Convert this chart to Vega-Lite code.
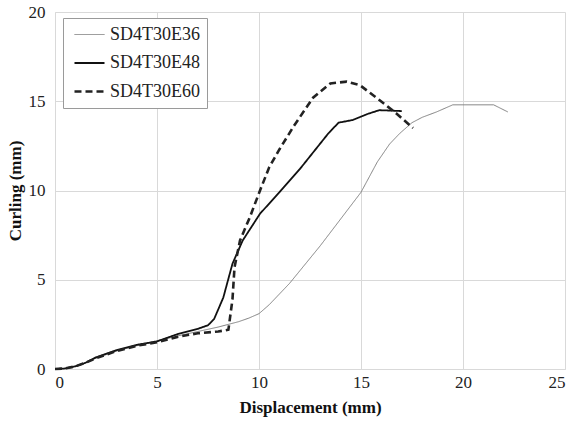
{
  "$schema": "https://vega.github.io/schema/vega-lite/v6.json",
  "width": 510,
  "height": 357,
  "autosize": {"type": "none"},
  "padding": {"left": 55, "top": 12, "right": 10, "bottom": 58},
  "background": "white",
  "config": {
    "font": "Liberation Serif",
    "view": {"stroke": null},
    "axis": {
      "labelFont": "Liberation Serif",
      "titleFont": "Liberation Serif",
      "labelFontSize": 17,
      "titleFontSize": 17,
      "labelColor": "#222",
      "titleColor": "#111",
      "gridColor": "#d9d9d9",
      "domainColor": "#d9d9d9",
      "ticks": false
    },
    "legend": {
      "orient": "none",
      "legendX": 8,
      "legendY": 6,
      "direction": "vertical",
      "strokeColor": "#9a9a9a",
      "fillColor": "white",
      "padding": 7,
      "labelFont": "Liberation Serif",
      "labelFontSize": 18,
      "labelColor": "#222",
      "symbolType": "M-1.667,0L1.667,0",
      "symbolSize": 324,
      "symbolOffset": 9,
      "rowPadding": 9,
      "labelOffset": 10
    }
  },
  "datasets": {
    "curves": [
      {"series": "SD4T30E36", "x": 0, "y": 0},
      {"series": "SD4T30E36", "x": 0.5, "y": 0.03},
      {"series": "SD4T30E36", "x": 1, "y": 0.15},
      {"series": "SD4T30E36", "x": 1.5, "y": 0.35},
      {"series": "SD4T30E36", "x": 2, "y": 0.6},
      {"series": "SD4T30E36", "x": 2.5, "y": 0.8},
      {"series": "SD4T30E36", "x": 3, "y": 1.0},
      {"series": "SD4T30E36", "x": 4, "y": 1.3},
      {"series": "SD4T30E36", "x": 5, "y": 1.55},
      {"series": "SD4T30E36", "x": 6, "y": 1.85},
      {"series": "SD4T30E36", "x": 7, "y": 2.1},
      {"series": "SD4T30E36", "x": 8, "y": 2.35},
      {"series": "SD4T30E36", "x": 9, "y": 2.65},
      {"series": "SD4T30E36", "x": 9.5, "y": 2.85},
      {"series": "SD4T30E36", "x": 10, "y": 3.1},
      {"series": "SD4T30E36", "x": 10.5, "y": 3.6},
      {"series": "SD4T30E36", "x": 11, "y": 4.2},
      {"series": "SD4T30E36", "x": 11.5, "y": 4.8},
      {"series": "SD4T30E36", "x": 12, "y": 5.5},
      {"series": "SD4T30E36", "x": 13, "y": 6.9},
      {"series": "SD4T30E36", "x": 14, "y": 8.4},
      {"series": "SD4T30E36", "x": 15, "y": 9.9},
      {"series": "SD4T30E36", "x": 15.8, "y": 11.6},
      {"series": "SD4T30E36", "x": 16.4, "y": 12.6},
      {"series": "SD4T30E36", "x": 16.9, "y": 13.2},
      {"series": "SD4T30E36", "x": 17.5, "y": 13.8},
      {"series": "SD4T30E36", "x": 18, "y": 14.1},
      {"series": "SD4T30E36", "x": 18.7, "y": 14.4},
      {"series": "SD4T30E36", "x": 19.5, "y": 14.8},
      {"series": "SD4T30E36", "x": 21.5, "y": 14.8},
      {"series": "SD4T30E36", "x": 22.2, "y": 14.4},
      {"series": "SD4T30E48", "x": 0, "y": 0},
      {"series": "SD4T30E48", "x": 0.5, "y": 0.03},
      {"series": "SD4T30E48", "x": 1, "y": 0.15},
      {"series": "SD4T30E48", "x": 1.5, "y": 0.35},
      {"series": "SD4T30E48", "x": 2, "y": 0.65},
      {"series": "SD4T30E48", "x": 2.5, "y": 0.85},
      {"series": "SD4T30E48", "x": 3, "y": 1.05},
      {"series": "SD4T30E48", "x": 4, "y": 1.35},
      {"series": "SD4T30E48", "x": 5, "y": 1.55},
      {"series": "SD4T30E48", "x": 6, "y": 1.95},
      {"series": "SD4T30E48", "x": 7, "y": 2.25},
      {"series": "SD4T30E48", "x": 7.5, "y": 2.45},
      {"series": "SD4T30E48", "x": 7.8, "y": 2.8},
      {"series": "SD4T30E48", "x": 8.25, "y": 4.0},
      {"series": "SD4T30E48", "x": 8.7, "y": 5.9},
      {"series": "SD4T30E48", "x": 9.2, "y": 7.2},
      {"series": "SD4T30E48", "x": 10.05, "y": 8.7},
      {"series": "SD4T30E48", "x": 11, "y": 9.9},
      {"series": "SD4T30E48", "x": 12, "y": 11.2},
      {"series": "SD4T30E48", "x": 12.7, "y": 12.2},
      {"series": "SD4T30E48", "x": 13.4, "y": 13.2},
      {"series": "SD4T30E48", "x": 13.9, "y": 13.8},
      {"series": "SD4T30E48", "x": 14.6, "y": 13.95},
      {"series": "SD4T30E48", "x": 15.35, "y": 14.3},
      {"series": "SD4T30E48", "x": 15.9, "y": 14.5},
      {"series": "SD4T30E48", "x": 17, "y": 14.45},
      {"series": "SD4T30E60", "x": 0, "y": 0},
      {"series": "SD4T30E60", "x": 0.5, "y": 0.03},
      {"series": "SD4T30E60", "x": 1, "y": 0.15},
      {"series": "SD4T30E60", "x": 1.5, "y": 0.35},
      {"series": "SD4T30E60", "x": 2, "y": 0.6},
      {"series": "SD4T30E60", "x": 2.5, "y": 0.8},
      {"series": "SD4T30E60", "x": 3, "y": 1.0},
      {"series": "SD4T30E60", "x": 4, "y": 1.3},
      {"series": "SD4T30E60", "x": 5, "y": 1.5},
      {"series": "SD4T30E60", "x": 6, "y": 1.8},
      {"series": "SD4T30E60", "x": 7, "y": 2.0},
      {"series": "SD4T30E60", "x": 8, "y": 2.1},
      {"series": "SD4T30E60", "x": 8.5, "y": 2.2},
      {"series": "SD4T30E60", "x": 8.7, "y": 3.9},
      {"series": "SD4T30E60", "x": 8.8, "y": 5.7},
      {"series": "SD4T30E60", "x": 9.07, "y": 7.2},
      {"series": "SD4T30E60", "x": 9.55, "y": 8.5},
      {"series": "SD4T30E60", "x": 10.05, "y": 10.0},
      {"series": "SD4T30E60", "x": 10.5, "y": 11.3},
      {"series": "SD4T30E60", "x": 11, "y": 12.3},
      {"series": "SD4T30E60", "x": 11.7, "y": 13.6},
      {"series": "SD4T30E60", "x": 12.65, "y": 15.2},
      {"series": "SD4T30E60", "x": 13.5, "y": 16.0},
      {"series": "SD4T30E60", "x": 14.3, "y": 16.1},
      {"series": "SD4T30E60", "x": 14.95, "y": 15.9},
      {"series": "SD4T30E60", "x": 15.9, "y": 15.07},
      {"series": "SD4T30E60", "x": 16.75, "y": 14.3},
      {"series": "SD4T30E60", "x": 17.55, "y": 13.5}
    ]
  },
  "data": {"name": "curves"},
  "mark": {"type": "line", "interpolate": "linear"},
  "encoding": {
    "x": {
      "field": "x",
      "type": "quantitative",
      "title": "Displacement (mm)",
      "scale": {"domain": [0, 25], "nice": false},
      "axis": {"values": [0, 5, 10, 15, 20, 25], "labelPadding": 5, "titlePadding": 9}
    },
    "y": {
      "field": "y",
      "type": "quantitative",
      "title": "Curling (mm)",
      "scale": {"domain": [0, 20], "nice": false},
      "axis": {"values": [0, 5, 10, 15, 20], "labelPadding": 10, "titlePadding": 4}
    },
    "color": {
      "field": "series",
      "type": "nominal",
      "title": null,
      "scale": {"domain": ["SD4T30E36", "SD4T30E48", "SD4T30E60"], "range": ["#7f7f7f", "#111111", "#222222"]}
    },
    "strokeWidth": {
      "field": "series",
      "type": "nominal",
      "title": null,
      "scale": {"domain": ["SD4T30E36", "SD4T30E48", "SD4T30E60"], "range": [1, 2.6, 1.8]}
    },
    "strokeDash": {
      "field": "series",
      "type": "nominal",
      "title": null,
      "scale": {"domain": ["SD4T30E36", "SD4T30E48", "SD4T30E60"], "range": [[1, 0], [1, 0], [7, 4]]}
    }
  }
}
